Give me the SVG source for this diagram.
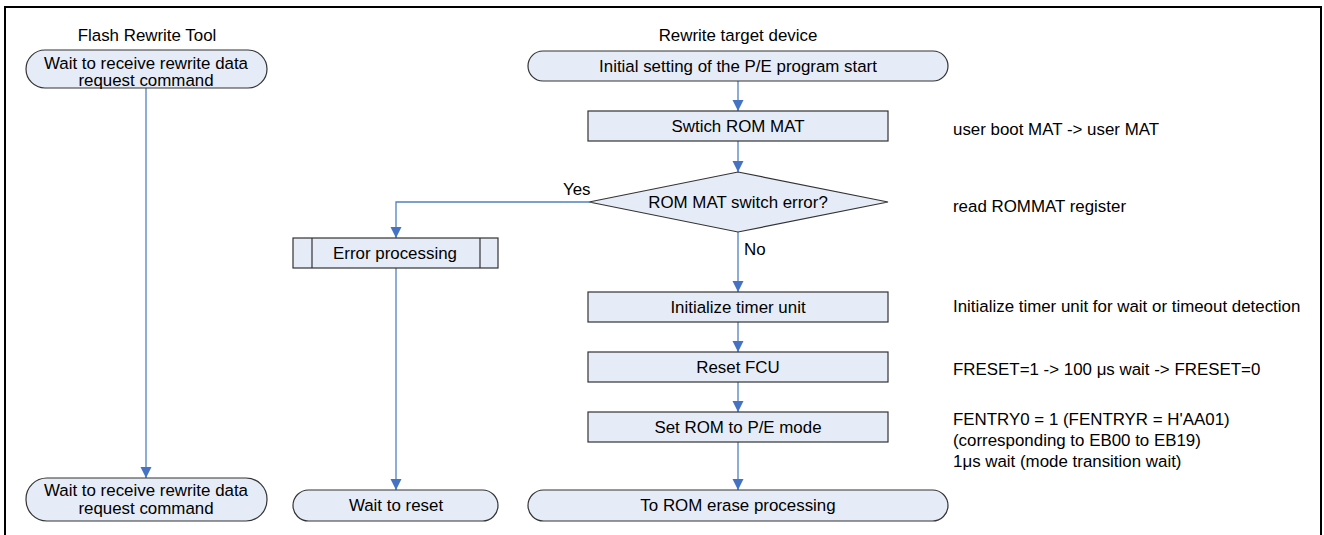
<svg xmlns="http://www.w3.org/2000/svg" width="1324" height="535" viewBox="0 0 1324 535">
<defs>
<style>
text{font-family:"Liberation Sans",Arial,sans-serif;font-size:16.9px;fill:#000}
.c{text-anchor:middle}
.shape{fill:#E6ECF7;stroke:#333;stroke-width:1.2}
.conn{fill:none;stroke:#4F81BD;stroke-width:1.3}
</style>
<marker id="arr" viewBox="0 0 10 10" refX="10" refY="5" markerWidth="11" markerHeight="12" markerUnits="userSpaceOnUse" orient="auto">
<path d="M0,0 L10,5 L0,10 Z" fill="#4472C4"/>
</marker>
</defs>
<rect x="0" y="0" width="1324" height="535" fill="#fff"/>
<rect x="5" y="7" width="1316" height="600" fill="none" stroke="#000" stroke-width="2"/>

<text class="c" x="147" y="41">Flash Rewrite Tool</text>
<text class="c" x="738" y="41">Rewrite target device</text>

<g id="connectors">
<path class="conn" d="M146,88 V478" marker-end="url(#arr)"/>
<path class="conn" d="M738,81 V111" marker-end="url(#arr)"/>
<path class="conn" d="M738,141 V172" marker-end="url(#arr)"/>
<path class="conn" d="M589,202 H396 V238" marker-end="url(#arr)"/>
<path class="conn" d="M738,232 V292" marker-end="url(#arr)"/>
<path class="conn" d="M396,268 V490" marker-end="url(#arr)"/>
<path class="conn" d="M738,322 V352" marker-end="url(#arr)"/>
<path class="conn" d="M738,382 V412" marker-end="url(#arr)"/>
<path class="conn" d="M738,442 V490" marker-end="url(#arr)"/>
<text x="563" y="195">Yes</text>
<text x="744" y="255">No</text>
</g>

<g id="tool-start">
<rect class="shape" x="26" y="50" width="241" height="38" rx="19" ry="19"/>
<text class="c" x="146" y="69">Wait to receive rewrite data</text>
<text class="c" x="146" y="86">request command</text>
</g>

<g id="tool-end">
<rect class="shape" x="26" y="478" width="241" height="43" rx="21" ry="21"/>
<text class="c" x="146" y="496">Wait to receive rewrite data</text>
<text class="c" x="146" y="514">request command</text>
</g>

<g id="start">
<rect class="shape" x="528" y="51" width="420" height="30" rx="15" ry="15"/>
<text class="c" x="738" y="72">Initial setting of the P/E program start</text>
</g>

<g id="switch">
<rect class="shape" x="588" y="111" width="300" height="30"/>
<text class="c" x="738" y="132">Swtich ROM MAT</text>
</g>

<g id="decision">
<polygon class="shape" points="738,172 888,202 738,232 589,202"/>
<text class="c" x="738" y="208">ROM MAT switch error?</text>
</g>

<g id="error">
<rect class="shape" x="293" y="238" width="205" height="30"/>
<line x1="312" y1="238" x2="312" y2="268" stroke="#333" stroke-width="1.2"/>
<line x1="480" y1="238" x2="480" y2="268" stroke="#333" stroke-width="1.2"/>
<text class="c" x="395" y="259">Error processing</text>
</g>

<g id="wait-reset">
<rect class="shape" x="293" y="490" width="205" height="31" rx="15.5" ry="15.5"/>
<text class="c" x="396" y="511">Wait to reset</text>
</g>

<g id="init-timer">
<rect class="shape" x="588" y="292" width="300" height="30"/>
<text class="c" x="738" y="313">Initialize timer unit</text>
</g>

<g id="reset-fcu">
<rect class="shape" x="588" y="352" width="300" height="30"/>
<text class="c" x="738" y="373">Reset FCU</text>
</g>

<g id="set-rom">
<rect class="shape" x="588" y="412" width="300" height="30"/>
<text class="c" x="738" y="433">Set ROM to P/E mode</text>
</g>

<g id="end">
<rect class="shape" x="528" y="490" width="420" height="31" rx="15.5" ry="15.5"/>
<text class="c" x="738" y="511">To ROM erase processing</text>
</g>

<g id="notes">
<text x="953" y="135">user boot MAT -&gt; user MAT</text>
<text x="953" y="212">read ROMMAT register</text>
<text x="953" y="312">Initialize timer unit for wait or timeout detection</text>
<text x="953" y="375">FRESET=1 -&gt; 100 μs wait -&gt; FRESET=0</text>
<text x="953" y="425">FENTRY0 = 1 (FENTRYR = H'AA01)</text>
<text x="953" y="446">(corresponding to EB00 to EB19)</text>
<text x="953" y="467">1μs wait (mode transition wait)</text>
</g>
</svg>
